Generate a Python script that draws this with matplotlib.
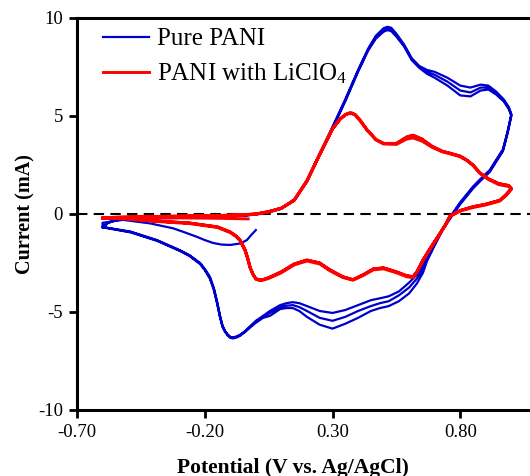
import matplotlib
matplotlib.use("Agg")
import matplotlib.pyplot as plt

plt.rcParams["font.family"] = ["Liberation Serif", "DejaVu Serif"]
plt.rcParams["mathtext.default"] = "regular"

# ---- Pure PANI (blue) ----
# first half scan from rest potential down to -0.6 V
blue_init_v = [0.00, -0.02, -0.035, -0.06, -0.10, -0.135, -0.167, -0.20, -0.23, -0.28,
               -0.324, -0.414, -0.52, -0.60]
blue_init_i = [-0.82, -1.10, -1.33, -1.50, -1.58, -1.56, -1.48, -1.33, -1.17, -0.93,
               -0.73, -0.48, -0.30, -0.45]

# anodic sweeps (-0.6 -> 1.0 V)
blue_fwd_v = [-0.60, -0.58, -0.55, -0.50, -0.40, -0.30, -0.20, -0.10, -0.05, 0.00,
              0.05, 0.10, 0.15, 0.20, 0.25, 0.30, 0.35, 0.40, 0.44, 0.47,
              0.50, 0.515, 0.53, 0.55, 0.58, 0.61, 0.64, 0.67, 0.70, 0.75,
              0.80, 0.84, 0.88, 0.91, 0.94, 0.97, 0.99, 1.00]
blue_fwd_c1 = [-0.66, -0.45, -0.30, -0.24, -0.20, -0.18, -0.16, -0.12, -0.07, 0.00,
               0.12, 0.30, 0.75, 1.70, 3.10, 4.45, 5.85, 7.35, 8.45, 9.10,
               9.48, 9.55, 9.50, 9.20, 8.65, 7.95, 7.55, 7.35, 7.25, 6.95,
               6.55, 6.45, 6.60, 6.55, 6.25, 5.85, 5.45, 5.10]
blue_fwd_c2 = [-0.67, -0.46, -0.31, -0.25, -0.21, -0.19, -0.17, -0.13, -0.08, -0.02,
               0.10, 0.28, 0.72, 1.66, 3.05, 4.40, 5.80, 7.30, 8.40, 9.02,
               9.38, 9.45, 9.40, 9.10, 8.60, 7.90, 7.50, 7.25, 7.10, 6.75,
               6.30, 6.20, 6.45, 6.45, 6.15, 5.80, 5.40, 5.05]
blue_fwd_c3 = [-0.68, -0.47, -0.32, -0.26, -0.22, -0.20, -0.18, -0.14, -0.09, -0.03,
               0.08, 0.26, 0.70, 1.63, 3.00, 4.35, 5.75, 7.25, 8.35, 8.95,
               9.30, 9.38, 9.33, 9.05, 8.55, 7.85, 7.45, 7.15, 6.95, 6.55,
               6.05, 6.00, 6.30, 6.35, 6.10, 5.75, 5.35, 5.00]

# cathodic sweeps (1.0 -> -0.6 V)
blue_rev_v = [1.00, 0.985, 0.967, 0.94, 0.916, 0.88, 0.85, 0.80, 0.76, 0.73,
              0.70, 0.67, 0.654, 0.63, 0.60, 0.56, 0.52, 0.486, 0.45, 0.40,
              0.35, 0.30, 0.25, 0.20, 0.17, 0.145, 0.12, 0.095, 0.055, 0.028,
              0.00, -0.02, -0.04, -0.06, -0.075, -0.09, -0.10, -0.11, -0.12, -0.13,
              -0.14, -0.152, -0.165, -0.18, -0.20, -0.218, -0.26, -0.297, -0.387, -0.49,
              -0.60]
blue_rev_c1 = [5.10, 4.20, 3.30, 2.75, 2.25, 1.80, 1.40, 0.60, -0.15, -0.75,
               -1.50, -2.20, -2.60, -3.10, -3.50, -3.95, -4.20, -4.30, -4.40, -4.65,
               -4.90, -5.05, -4.95, -4.70, -4.55, -4.50, -4.55, -4.65, -4.95, -5.20,
               -5.45, -5.70, -5.95, -6.15, -6.25, -6.30, -6.27, -6.15, -5.98, -5.72,
               -5.20, -4.45, -3.75, -3.20, -2.80, -2.50, -2.10, -1.85, -1.33, -0.90,
               -0.66]
blue_rev_c2 = [5.05, 4.15, 3.25, 2.70, 2.20, 1.75, 1.35, 0.55, -0.20, -0.80,
               -1.55, -2.30, -2.80, -3.30, -3.75, -4.15, -4.45, -4.55, -4.70, -4.95,
               -5.25, -5.45, -5.30, -4.95, -4.75, -4.65, -4.68, -4.75, -5.05, -5.25,
               -5.50, -5.73, -5.97, -6.17, -6.27, -6.32, -6.29, -6.17, -6.00, -5.75,
               -5.25, -4.50, -3.80, -3.25, -2.83, -2.53, -2.12, -1.87, -1.35, -0.92,
               -0.67]
blue_rev_c3 = [5.00, 4.10, 3.20, 2.65, 2.15, 1.70, 1.30, 0.50, -0.25, -0.85,
               -1.60, -2.40, -3.00, -3.55, -4.05, -4.45, -4.70, -4.80, -4.95, -5.30,
               -5.60, -5.85, -5.65, -5.25, -4.95, -4.80, -4.80, -4.85, -5.20, -5.30,
               -5.55, -5.76, -6.00, -6.20, -6.30, -6.35, -6.32, -6.20, -6.03, -5.78,
               -5.30, -4.55, -3.85, -3.30, -2.86, -2.56, -2.14, -1.89, -1.37, -0.94,
               -0.68]

# ---- PANI with LiClO4 (red) ----
red_init_v = [-0.03, -0.15, -0.30, -0.45, -0.60]
red_init_i = [-0.25, -0.22, -0.20, -0.20, -0.22]

red_fwd_v = [-0.60, -0.55, -0.45, -0.30, -0.15, -0.05, 0.00, 0.05, 0.10, 0.15,
             0.20, 0.25, 0.30, 0.33, 0.35, 0.365, 0.376, 0.39, 0.41, 0.435,
             0.47, 0.50, 0.55, 0.59, 0.615, 0.65, 0.69, 0.73, 0.76, 0.80,
             0.826, 0.85, 0.877, 0.91, 0.95, 0.99, 1.00]
red_fwd_c1 = [-0.20, -0.17, -0.14, -0.11, -0.08, -0.04, 0.00, 0.12, 0.30, 0.70,
              1.70, 3.05, 4.35, 4.85, 5.07, 5.15, 5.15, 5.06, 4.75, 4.30,
              3.80, 3.60, 3.60, 3.92, 4.02, 3.82, 3.45, 3.20, 3.10, 2.95,
              2.75, 2.50, 2.10, 1.80, 1.55, 1.45, 1.30]
red_fwd_c2 = [-0.22, -0.19, -0.16, -0.13, -0.10, -0.05, -0.01, 0.11, 0.29, 0.69,
              1.68, 3.03, 4.33, 4.83, 5.05, 5.12, 5.12, 5.03, 4.72, 4.28,
              3.78, 3.57, 3.55, 3.82, 3.88, 3.72, 3.40, 3.17, 3.07, 2.92,
              2.72, 2.47, 2.07, 1.76, 1.50, 1.40, 1.25]

red_rev_v = [1.00, 0.98, 0.955, 0.90, 0.85, 0.80, 0.76, 0.74, 0.71, 0.68,
             0.654, 0.63, 0.615, 0.59, 0.55, 0.50, 0.46, 0.42, 0.38, 0.34,
             0.29, 0.25, 0.20, 0.15, 0.10, 0.05, 0.03, 0.016, 0.00, -0.012,
             -0.023, -0.032, -0.042, -0.062, -0.08, -0.10, -0.15, -0.26, -0.39, -0.52,
             -0.60]
red_rev_c1 = [1.30, 1.00, 0.70, 0.50, 0.37, 0.18, -0.10, -0.60, -1.20, -1.80,
              -2.35, -2.95, -3.20, -3.15, -2.95, -2.75, -2.80, -3.10, -3.35, -3.20,
              -2.85, -2.50, -2.35, -2.55, -2.95, -3.25, -3.34, -3.37, -3.30, -3.05,
              -2.70, -2.25, -1.84, -1.33, -1.10, -0.92, -0.66, -0.46, -0.36, -0.22,
              -0.20]
red_rev_c2 = [1.25, 0.95, 0.66, 0.46, 0.33, 0.15, -0.12, -0.62, -1.22, -1.82,
              -2.38, -2.98, -3.25, -3.20, -3.00, -2.80, -2.85, -3.14, -3.38, -3.24,
              -2.90, -2.55, -2.40, -2.60, -3.00, -3.29, -3.37, -3.40, -3.33, -3.08,
              -2.74, -2.29, -1.88, -1.36, -1.13, -0.95, -0.69, -0.49, -0.38, -0.24,
              -0.22]


def cv_trace(init_v, init_i, fwd_v, fwd_cycles, rev_v, rev_cycles):
    v = list(init_v)
    i = list(init_i)
    for f, r in zip(fwd_cycles, rev_cycles):
        v += fwd_v + rev_v
        i += f + r
    return v, i


blue_v, blue_i = cv_trace(blue_init_v, blue_init_i, blue_fwd_v,
                          [blue_fwd_c1, blue_fwd_c2, blue_fwd_c3],
                          blue_rev_v, [blue_rev_c1, blue_rev_c2, blue_rev_c3])
red_v, red_i = cv_trace(red_init_v, red_init_i, red_fwd_v,
                        [red_fwd_c1, red_fwd_c2, red_fwd_c1],
                        red_rev_v, [red_rev_c1, red_rev_c2, red_rev_c1])

fig = plt.figure(figsize=(5.30, 4.76), dpi=100)
ax = fig.add_axes([0.1453, 0.1387, 0.8547, 0.8235])

ax.axhline(0, color="black", lw=1.5, ls=(0, (5, 3)), zorder=1)
ax.plot(blue_v, blue_i, color="#0000CC", lw=1.6, label="Pure PANI",
        solid_joinstyle="round", zorder=2)
ax.plot(red_v, red_i, color="#FF0000", lw=2.1, label="PANI with LiClO$_4$",
        solid_joinstyle="round", zorder=3)

ax.set_xlim(-0.70, 1.073)
ax.set_ylim(-10, 10)
ax.set_xticks([-0.70, -0.20, 0.30, 0.80])
ax.set_xticklabels(["-0.70", "-0.20", "0.30", "0.80"])
ax.set_yticks([-10, -5, 0, 5, 10])
ax.set_yticklabels(["-10", "-5", "0", "5", "10"])
ax.tick_params(direction="out", length=6, width=2, labelsize=13.5, pad=4)

for side in ["left", "bottom", "top"]:
    ax.spines[side].set_linewidth(2.2)
ax.spines["right"].set_visible(False)

ax.set_xlabel("Potential (V vs. Ag/AgCl)", fontsize=15.5, fontweight="bold",
              labelpad=12, x=0.477)
ax.set_ylabel("Current (mA)", fontsize=14.5, fontweight="bold", labelpad=2)

ax.legend(loc="upper left", bbox_to_anchor=(0.035, 1.0), frameon=False,
          fontsize=18, handlelength=1.85, handletextpad=0.3, labelspacing=0.45,
          borderaxespad=0.0)

fig.savefig("out.png", dpi=100)
